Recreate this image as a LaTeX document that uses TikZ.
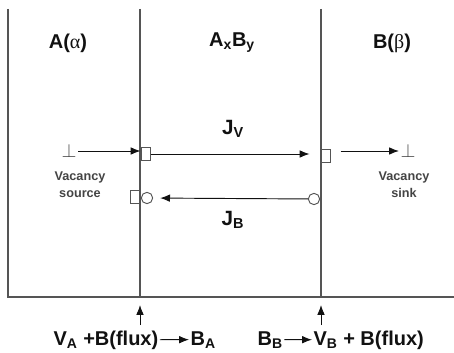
\documentclass[tikz,border=0pt]{standalone}
\usepackage{fontspec}
\setmainfont{Liberation Sans}
\newfontfamily\greekfont{Liberation Serif}
\usetikzlibrary{arrows.meta,positioning,calc}
\definecolor{Wall}{HTML}{555555}
\definecolor{Ink}{HTML}{111111}
\tikzset{
  wall/.style={draw=Wall,line width=.9pt},
  phase/.style={font=\bfseries\fontsize{15}{18}\selectfont,text=Ink,inner sep=1pt},
  flux/.style={font=\bfseries\fontsize{15.5}{18}\selectfont,text=Ink,inner sep=1pt},
  note/.style={font=\bfseries\fontsize{9.5}{12.5}\selectfont,text=Wall!80!black,align=center,inner sep=1pt},
  eqn/.style={font=\bfseries\fontsize{15}{18}\selectfont,text=Ink,inner sep=1pt},
  site/.style={draw=Wall,fill=white,line width=.7pt,minimum width=6.8pt,minimum height=9.5pt,inner sep=0pt},
  vac/.style={circle,draw=Wall,fill=white,line width=.7pt,minimum size=8.5pt,inner sep=0pt},
  sink/.style={text=Wall!80!black,inner sep=1pt,font=\fontsize{14}{15}\selectfont},
  flow/.style={-{Latex[length=2.6mm,width=2mm]},draw=Ink,line width=.7pt}
}
\begin{document}
\begin{tikzpicture}[x=.75pt,y=-.75pt]
  \useasboundingbox (0,0) rectangle (454,353);
  % phases and interfaces
  \coordinate (topL) at (8,9);
  \coordinate (botL) at (8,297);
  \coordinate (topI) at (140,9);
  \coordinate (botI) at (140,297);
  \coordinate (topII) at (321,9);
  \coordinate (botII) at (321,297);
  \coordinate (botR) at (454,297);
  \draw[wall] (topL) -- (botL) -- (botR);
  \draw[wall] (topI) -- (botI);
  \draw[wall] (topII) -- (botII);
  \node[phase] (alpha) at (68,43) {A({\greekfont\mdseries α})};
  \node[phase] (mid) at (232,43) {A\textsubscript{x}B\textsubscript{y}};
  \node[phase] (beta) at (392,43) {B({\greekfont\mdseries β})};
  % vacancy flux
  \node[sink] (src) at (69,151) {$\perp$};
  \node[site] (sqA) at (145.5,154) {};
  \node[site] (sqB) at (325.5,156) {};
  \node[sink] (snk) at (408,151) {$\perp$};
  \draw[flow] (src) -- (sqA.west |- src);
  \draw[flow,shorten >=11pt*.75] (sqA.east) -- (sqB.west |- sqA.east);
  \draw[flow,shorten <=10pt*.75] (sqB.east |- snk) -- (snk);
  \node[flux] (jv) at (233,129) {J\textsubscript{V}};
  \node[note] (vsrc) at (80,185) {Vacancy\\source};
  \node[note] (vsnk) at (404,185) {Vacancy\\sink};
  % B flux
  \node[site] (sqC) at (135,197) {};
  \node[vac] (vA) at (147,198) {};
  \node[vac] (vB) at (314,199) {};
  \draw[flow,shorten >=7pt*.75] (vB) -- (vA);
  \node[flux] (jb) at (233,220) {J\textsubscript{B}};
  % interface reactions
  \coordinate (upI) at (140,305);
  \coordinate (lowI) at (140,325);
  \coordinate (upII) at (321,305);
  \coordinate (lowII) at (321,325);
  \draw[flow] (lowI) -- (upI);
  \draw[flow] (lowII) -- (upII);
  \node[eqn,anchor=base west] (reacA) at (52,345) {V\textsubscript{A} +B(flux)};
  \node[eqn,anchor=base west] (prodA) at (189,345) {B\textsubscript{A}};
  \draw[flow] (reacA) -- (prodA);
  \node[eqn,anchor=base west] (reacB) at (256,345) {B\textsubscript{B}};
  \node[eqn,anchor=base west] (prodB) at (312,345) {V\textsubscript{B} + B(flux)};
  \draw[flow] (reacB) -- (prodB);
\end{tikzpicture}
\end{document}
